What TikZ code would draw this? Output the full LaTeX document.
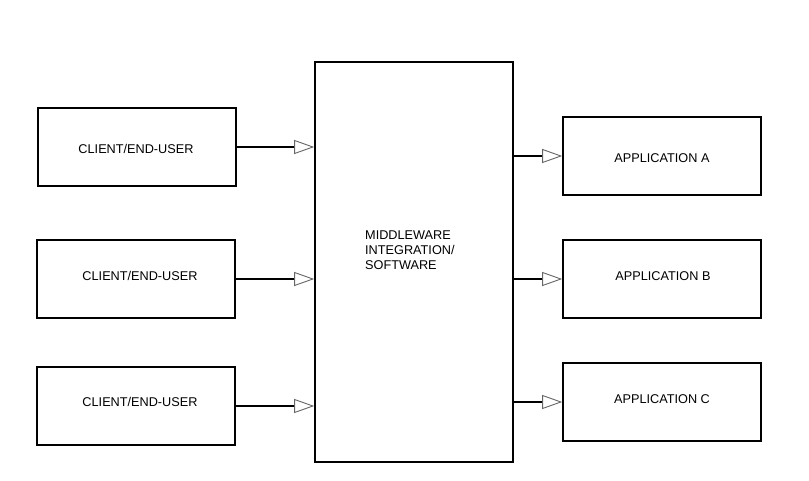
\documentclass[tikz,border=0pt]{standalone}
\usepackage{fontspec}
\setmainfont{Liberation Sans}
\usetikzlibrary{arrows.meta}
\begin{document}
\begin{tikzpicture}[x=1pt,y=-1pt,
  box/.style={draw=black,line width=1.6pt,minimum width=198pt,minimum height=78pt,inner sep=0pt},
  lbl/.style={font=\fontsize{12.7}{15}\selectfont},
  conn/.style={line width=1.6pt,-{Triangle[open,length=20pt,width=14pt,line width=0.9pt,color=black!60]}}]
\useasboundingbox (0,0) rectangle (809,481);
\node[box] (c1) at (137,147) {};
\node[lbl] at (136,149) {CLIENT/END-USER};
\node[box] (c2) at (136,279) {};
\node[lbl] at (140,276) {CLIENT/END-USER};
\node[box] (c3) at (136,406) {};
\node[lbl] at (140,402) {CLIENT/END-USER};
\node[box,minimum height=400pt] (mw) at (414,262) {};
\node[lbl,align=left,anchor=north west,inner sep=0pt] at (365,231) {MIDDLEWARE\\INTEGRATION/\\SOFTWARE};
\node[box] (a) at (662,156) {};
\node[lbl] at (662,158) {APPLICATION A};
\node[box] (b) at (662,279) {};
\node[lbl] at (663,276) {APPLICATION B};
\node[box] (c) at (662,402) {};
\node[lbl] at (662,399) {APPLICATION C};
\draw[conn] (c1.east) -- (c1.east -| mw.west);
\draw[conn] (c2.east) -- (c2.east -| mw.west);
\draw[conn] (c3.east) -- (c3.east -| mw.west);
\draw[conn] (a.west -| mw.east) -- (a.west);
\draw[conn] (b.west -| mw.east) -- (b.west);
\draw[conn] (c.west -| mw.east) -- (c.west);
\end{tikzpicture}
\end{document}
